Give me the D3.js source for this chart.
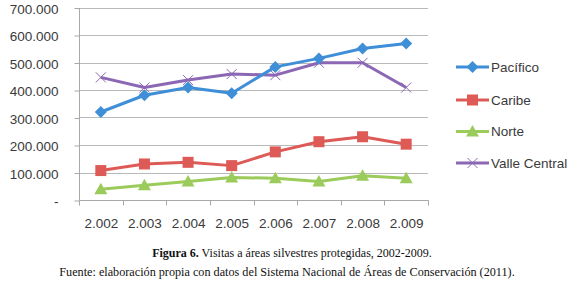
<!DOCTYPE html>
<html>
<head>
<meta charset="utf-8">
<script src="https://cdn.jsdelivr.net/npm/d3@7"></script>
<style>
  body { margin: 0; background: #fff; }
  svg { display: block; }
</style>
</head>
<body>
<div id="chart"></div>
<script>
const years = ["2.002", "2.003", "2.004", "2.005", "2.006", "2.007", "2.008", "2.009"];
const pacifico = [320, 381, 409, 388, 484, 515, 551, 569];
const caribe = [107, 131, 137, 125, 175, 212, 230, 203];
const norte = [39, 54, 67, 82, 79, 67, 88, 79];
const valleCentral = [446, 409, 436, 458, 454, 499, 499, 409];
const yTicks = [0, 100, 200, 300, 400, 500, 600, 700];
const seriesNames = ["Pacífico", "Caribe", "Norte", "Valle Central"];

const width = 577;
const height = 288;
const font = "'Liberation Sans', Arial, sans-serif";

const series = [
  { name: seriesNames[0], values: pacifico, color: "#3e8fd8", marker: "diamond" },
  { name: seriesNames[1], values: caribe, color: "#de5a56", marker: "square" },
  { name: seriesNames[2], values: norte, color: "#9bcb5b", marker: "triangle" },
  { name: seriesNames[3], values: valleCentral, color: "#8b67b4", marker: "cross" },
];

const svg = d3.select("#chart")
  .append("svg")
  .attr("width", width)
  .attr("height", height);

const x = d3.scaleBand().domain(years).range([79, 428]);
const y = d3.scaleLinear().domain([0, 700]).range([200, 7.5]);

// gridlines
svg.append("g")
  .selectAll("line")
  .data(yTicks.slice(1))
  .join("line")
  .attr("x1", 79)
  .attr("x2", 428)
  .attr("y1", (d) => Math.round(y(d)) + 0.5)
  .attr("y2", (d) => Math.round(y(d)) + 0.5)
  .attr("stroke", "#b9b9b9")
  .attr("stroke-width", 1);

// y axis
const yAxis = svg.append("g")
  .attr("transform", "translate(79.5,0.5)")
  .call(d3.axisLeft(y).tickValues(yTicks).tickSize(5).tickPadding(16)
    .tickFormat((d) => d === 0 ? "-" : d3.format(",")(d * 1000).replace(/,/g, ".")));
yAxis.selectAll("line, path").attr("stroke", "#a8a8a8");
yAxis.select("path").attr("d", `M0,${y(700)}V${y(0)}`);
yAxis.selectAll("text")
  .attr("font-family", font)
  .attr("font-size", 13.5)
  .attr("fill", "#3a3a3a")
  .attr("dy", "0.4em");

// x axis
const xAxis = svg.append("g")
  .attr("transform", `translate(0.5,${Math.round(y(0)) + 0.5})`)
  .call(d3.axisBottom(x).tickSize(0).tickPadding(18));
xAxis.select("path").attr("stroke", "#a8a8a8").attr("d", `M79,0H428`);
xAxis.selectAll("text")
  .attr("font-family", font)
  .attr("font-size", 13.5)
  .attr("fill", "#3a3a3a");
xAxis.selectAll(".sep")
  .data(d3.range(years.length + 1))
  .join("line")
  .attr("class", "sep")
  .attr("x1", (i) => Math.round(79 + i * x.bandwidth()))
  .attr("x2", (i) => Math.round(79 + i * x.bandwidth()))
  .attr("y1", 0)
  .attr("y2", 5)
  .attr("stroke", "#a8a8a8");

const cx = (i) => x(years[i]) + x.bandwidth() / 2;

function drawMarker(g, type, color, px, py) {
  if (type === "diamond") {
    g.append("path")
      .attr("d", `M${px},${py - 6}L${px + 6},${py}L${px},${py + 6}L${px - 6},${py}Z`)
      .attr("fill", color);
  } else if (type === "square") {
    g.append("rect")
      .attr("x", px - 5.5).attr("y", py - 5.5)
      .attr("width", 11).attr("height", 11)
      .attr("fill", color);
  } else if (type === "triangle") {
    g.append("path")
      .attr("d", `M${px},${py - 6.5}L${px + 6.5},${py + 5}L${px - 6.5},${py + 5}Z`)
      .attr("fill", color);
  } else {
    g.append("path")
      .attr("d", `M${px - 5},${py - 5}L${px + 5},${py + 5}M${px + 5},${py - 5}L${px - 5},${py + 5}`)
      .attr("stroke", color)
      .attr("stroke-width", 1);
  }
}

const line = d3.line()
  .x((d, i) => cx(i))
  .y((d) => y(d));

const plot = svg.append("g");
// draw in order so Valle Central sits under Pacífico like the original
[3, 2, 1, 0].forEach((k) => {
  const s = series[k];
  const g = plot.append("g");
  g.append("path")
    .datum(s.values)
    .attr("d", line)
    .attr("fill", "none")
    .attr("stroke", s.color)
    .attr("stroke-width", 3)
    .attr("stroke-linejoin", "round");
  s.values.forEach((v, i) => drawMarker(g, s.marker, s.color, cx(i), y(v)));
});

// legend
const legendY = [67, 100, 131.5, 163];
const legend = svg.append("g");
series.forEach((s, k) => {
  const g = legend.append("g");
  g.append("line")
    .attr("x1", 456).attr("x2", 489)
    .attr("y1", legendY[k]).attr("y2", legendY[k])
    .attr("stroke", s.color)
    .attr("stroke-width", 3);
  drawMarker(g, s.marker, s.color, 472.5, legendY[k]);
  g.append("text")
    .attr("x", 491)
    .attr("y", legendY[k])
    .attr("dy", "0.36em")
    .attr("font-family", font)
    .attr("font-size", 13.5)
    .attr("fill", "#3a3a3a")
    .text(s.name);
});

// caption
const cap = svg.append("text")
  .attr("x", 292)
  .attr("y", 257)
  .attr("text-anchor", "middle")
  .attr("font-family", "'Liberation Serif', 'Times New Roman', serif")
  .attr("font-size", 12)
  .attr("fill", "#111");
cap.append("tspan").attr("font-weight", "bold").text("Figura 6.");
cap.append("tspan").text(" Visitas a áreas silvestres protegidas, 2002-2009.");

svg.append("text")
  .attr("x", 287)
  .attr("y", 276)
  .attr("text-anchor", "middle")
  .attr("font-family", "'Liberation Serif', 'Times New Roman', serif")
  .attr("font-size", 12.2)
  .attr("fill", "#111")
  .text("Fuente: elaboración propia con datos del Sistema Nacional de Áreas de Conservación (2011).");
</script>
</body>
</html>
